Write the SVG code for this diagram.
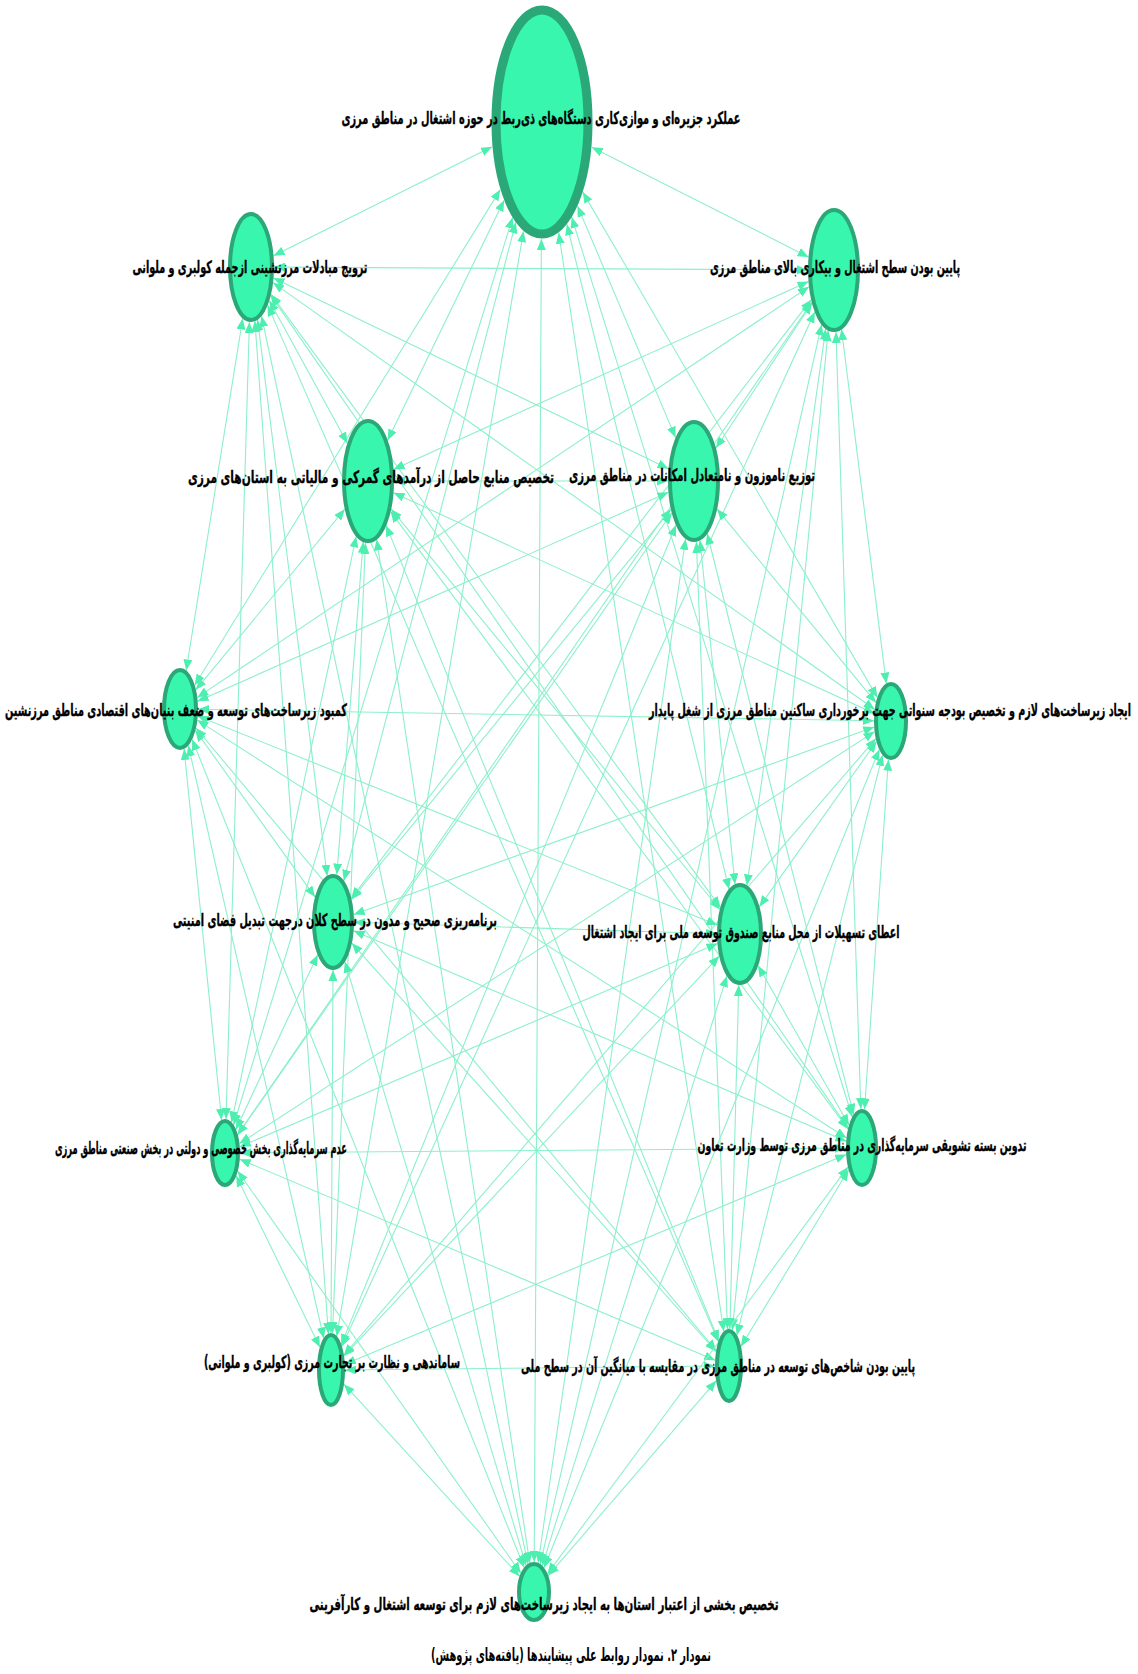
<svg xmlns="http://www.w3.org/2000/svg" width="1138" height="1674" viewBox="0 0 1138 1674">
<style>
.e{stroke:#8cf0cb;stroke-width:1.1;fill:none;marker-start:url(#ah);marker-end:url(#ah)}
.n{fill:#38f6ad;stroke:#2aa878;stroke-width:4}
.t{font-family:"DejaVu Sans","Noto Sans",sans-serif;font-weight:bold;font-size:17px;fill:#000;stroke:#000;stroke-width:0.35;text-anchor:middle;direction:rtl}
.cap{font-family:"DejaVu Sans","Noto Sans",sans-serif;font-weight:bold;font-size:18px;fill:#000;text-anchor:middle;direction:rtl}
</style>
<defs>
<marker id="ah" markerUnits="userSpaceOnUse" markerWidth="11" markerHeight="9" refX="11" refY="4.5" orient="auto-start-reverse">
<path d="M0,0 L11,4.5 L0,9 z" style="fill:#4cefb0"/>
</marker>
</defs>
<rect width="1138" height="1674" fill="#fff"/>
<g id="edges">
<line class="e" x1="492.1" y1="146.8" x2="273.5" y2="255.8"/>
<line class="e" x1="591.8" y1="147.2" x2="808.6" y2="257.1"/>
<line class="e" x1="504.1" y1="200.3" x2="387.7" y2="440.3"/>
<line class="e" x1="577.5" y1="205.9" x2="675.6" y2="437.6"/>
<line class="e" x1="500.3" y1="189.6" x2="194.7" y2="685.2"/>
<line class="e" x1="582.8" y1="192.1" x2="877.4" y2="697.6"/>
<line class="e" x1="515.8" y1="222.3" x2="343.8" y2="880.7"/>
<line class="e" x1="566.9" y1="224.2" x2="729.1" y2="889.3"/>
<line class="e" x1="512.6" y1="217.5" x2="233.6" y2="1125"/>
<line class="e" x1="571.7" y1="217.1" x2="852.3" y2="1117"/>
<line class="e" x1="523.5" y1="231.2" x2="336.7" y2="1336.2"/>
<line class="e" x1="558.7" y1="232.7" x2="723.8" y2="1331.4"/>
<line class="e" x1="541.4" y1="239" x2="534.2" y2="1562"/>
<line class="e" x1="274" y1="267.1" x2="808" y2="269.9"/>
<line class="e" x1="269.3" y1="300.4" x2="347.4" y2="443.3"/>
<line class="e" x1="273.5" y1="277.9" x2="668.5" y2="468.7"/>
<line class="e" x1="242.7" y1="318.4" x2="186.2" y2="670.5"/>
<line class="e" x1="273" y1="282.6" x2="874.8" y2="709.5"/>
<line class="e" x1="257.6" y1="319.8" x2="327.2" y2="875.9"/>
<line class="e" x1="271" y1="294.3" x2="720.4" y2="907.3"/>
<line class="e" x1="249.4" y1="322" x2="226" y2="1119"/>
<line class="e" x1="270.7" y1="295.4" x2="848.2" y2="1128.1"/>
<line class="e" x1="254.9" y1="321.1" x2="328.4" y2="1333.9"/>
<line class="e" x1="267.6" y1="305.1" x2="718.5" y2="1341.8"/>
<line class="e" x1="261.5" y1="315.9" x2="528" y2="1563.9"/>
<line class="e" x1="808.5" y1="281.6" x2="393.5" y2="469.4"/>
<line class="e" x1="812" y1="303.1" x2="715.9" y2="448"/>
<line class="e" x1="809" y1="286.8" x2="197.3" y2="697.4"/>
<line class="e" x1="841.5" y1="329.2" x2="886.3" y2="683.6"/>
<line class="e" x1="811.2" y1="299.7" x2="351.3" y2="898.2"/>
<line class="e" x1="825.7" y1="328.9" x2="746.9" y2="885.4"/>
<line class="e" x1="811.8" y1="302.2" x2="237.7" y2="1134.6"/>
<line class="e" x1="836" y1="332" x2="860.8" y2="1109"/>
<line class="e" x1="814.8" y1="311.9" x2="341.8" y2="1346.5"/>
<line class="e" x1="828.2" y1="330.3" x2="732.4" y2="1330"/>
<line class="e" x1="821.7" y1="324.4" x2="540.3" y2="1564.2"/>
<line class="e" x1="394" y1="481" x2="668" y2="481"/>
<line class="e" x1="344.8" y1="509.2" x2="195.8" y2="689.8"/>
<line class="e" x1="393.5" y1="492.7" x2="874.4" y2="713.4"/>
<line class="e" x1="363.2" y1="541.9" x2="336.8" y2="874.6"/>
<line class="e" x1="391.2" y1="509.2" x2="719.9" y2="909.5"/>
<line class="e" x1="356.2" y1="536.4" x2="231.5" y2="1122.4"/>
<line class="e" x1="390.6" y1="511.6" x2="848" y2="1129.1"/>
<line class="e" x1="365.4" y1="543" x2="332.5" y2="1333"/>
<line class="e" x1="386.1" y1="525.4" x2="718.8" y2="1340.9"/>
<line class="e" x1="376.7" y1="539.4" x2="529.7" y2="1563"/>
<line class="e" x1="668.5" y1="492.3" x2="197.6" y2="701.2"/>
<line class="e" x1="717.1" y1="509.1" x2="876" y2="702.7"/>
<line class="e" x1="670.9" y1="509.3" x2="351.5" y2="899.4"/>
<line class="e" x1="700" y1="540.3" x2="735" y2="884.3"/>
<line class="e" x1="671.8" y1="512.8" x2="237.7" y2="1134.8"/>
<line class="e" x1="707.2" y1="533.5" x2="853.6" y2="1114.7"/>
<line class="e" x1="676" y1="525" x2="341.2" y2="1344.9"/>
<line class="e" x1="696.4" y1="542" x2="727.5" y2="1329"/>
<line class="e" x1="685.6" y1="538.9" x2="538.2" y2="1562.8"/>
<line class="e" x1="198" y1="709.3" x2="874" y2="720.7"/>
<line class="e" x1="195.4" y1="730.4" x2="315.1" y2="897.1"/>
<line class="e" x1="197.7" y1="716.1" x2="717.4" y2="924.9"/>
<line class="e" x1="184.1" y1="748.9" x2="221.6" y2="1119.9"/>
<line class="e" x1="197.3" y1="720.1" x2="846.5" y2="1138"/>
<line class="e" x1="188.3" y1="745.4" x2="323.8" y2="1338.4"/>
<line class="e" x1="195.9" y1="728" x2="716.2" y2="1350.7"/>
<line class="e" x1="192.1" y1="739.3" x2="524.2" y2="1567.6"/>
<line class="e" x1="874.2" y1="727" x2="353.7" y2="914.5"/>
<line class="e" x1="876.5" y1="741.5" x2="759.4" y2="906.7"/>
<line class="e" x1="874.6" y1="731.6" x2="239.4" y2="1143.6"/>
<line class="e" x1="888.4" y1="759.7" x2="864.6" y2="1109.3"/>
<line class="e" x1="875.9" y1="738.6" x2="343.8" y2="1355.2"/>
<line class="e" x1="882.5" y1="754.9" x2="736.8" y2="1335.2"/>
<line class="e" x1="879.4" y1="749.4" x2="544" y2="1567.7"/>
<line class="e" x1="354" y1="922.3" x2="717" y2="933.7"/>
<line class="e" x1="317.7" y1="954.7" x2="235.9" y2="1129.6"/>
<line class="e" x1="353.6" y1="930.8" x2="846.3" y2="1141.3"/>
<line class="e" x1="333" y1="970" x2="331" y2="1333"/>
<line class="e" x1="351.8" y1="943.1" x2="716.1" y2="1351.5"/>
<line class="e" x1="344.9" y1="961.6" x2="526.1" y2="1565.5"/>
<line class="e" x1="717.5" y1="943.6" x2="239.7" y2="1146.7"/>
<line class="e" x1="758" y1="965.6" x2="849" y2="1125.2"/>
<line class="e" x1="719.3" y1="956.1" x2="344" y2="1356.1"/>
<line class="e" x1="738.7" y1="985" x2="729.9" y2="1329"/>
<line class="e" x1="726.9" y1="975.9" x2="542.3" y2="1565.7"/>
<line class="e" x1="240" y1="1152.9" x2="846" y2="1148.1"/>
<line class="e" x1="236.2" y1="1175.8" x2="319.9" y2="1347.3"/>
<line class="e" x1="239.7" y1="1159.2" x2="715.2" y2="1360.2"/>
<line class="e" x1="237.7" y1="1171.1" x2="520.8" y2="1573.2"/>
<line class="e" x1="846.2" y1="1154.6" x2="344.8" y2="1364.2"/>
<line class="e" x1="848.7" y1="1169.8" x2="740.9" y2="1346.5"/>
<line class="e" x1="848" y1="1166.9" x2="547.5" y2="1573.7"/>
<line class="e" x1="345" y1="1370" x2="715" y2="1366"/>
<line class="e" x1="344" y1="1384.2" x2="519.6" y2="1576.2"/>
<line class="e" x1="716.2" y1="1380.8" x2="548.2" y2="1575.6"/>
</g>
<g id="n1"><ellipse class="n" cx="542" cy="122" rx="46" ry="112" style="stroke-width:9"/><text class="t" x="541" y="124" textLength="399" lengthAdjust="spacingAndGlyphs">عملکرد جزیره‌ای و موازی‌کاری دستگاه‌های ذی‌ربط در حوزه اشتغال در مناطق مرزی</text></g>
<g id="n2"><ellipse class="n" cx="251" cy="267" rx="21" ry="53"/><text class="t" x="250" y="273" textLength="235" lengthAdjust="spacingAndGlyphs">ترویج مبادلات مرزنشینی ازجمله کولبری و ملوانی</text></g>
<g id="n3"><ellipse class="n" cx="834" cy="270" rx="24" ry="60"/><text class="t" x="835" y="273" textLength="250" lengthAdjust="spacingAndGlyphs">پایین بودن سطح اشتغال و بیکاری بالای مناطق مرزی</text></g>
<g id="n4"><ellipse class="n" cx="368" cy="481" rx="24" ry="60"/><text class="t" x="371" y="483" textLength="366" lengthAdjust="spacingAndGlyphs">تخصیص منابع حاصل از درآمدهای گمرکی و مالیاتی به استان‌های مرزی</text></g>
<g id="n5"><ellipse class="n" cx="694" cy="481" rx="24" ry="59"/><text class="t" x="692" y="481" textLength="246" lengthAdjust="spacingAndGlyphs">توزیع ناموزون و نامتعادل امکانات در مناطق مرزی</text></g>
<g id="n6"><ellipse class="n" cx="180" cy="709" rx="16" ry="39"/><text class="t" x="176" y="716" textLength="342" lengthAdjust="spacingAndGlyphs">کمبود زیرساخت‌های توسعه و ضعف بنیان‌های اقتصادی مناطق مرزنشین</text></g>
<g id="n7"><ellipse class="n" cx="891" cy="721" rx="15" ry="37"/><text class="t" x="890" y="716" textLength="482" lengthAdjust="spacingAndGlyphs">ایجاد زیرساخت‌های لازم و تخصیص بودجه سنواتی جهت برخورداری ساکنین مناطق مرزی از شغل پایدار</text></g>
<g id="n8"><ellipse class="n" cx="333" cy="922" rx="19" ry="46"/><text class="t" x="335" y="926" textLength="324" lengthAdjust="spacingAndGlyphs">برنامه‌ریزی صحیح و مدون در سطح کلان درجهت تبدیل فضای امنیتی</text></g>
<g id="n9"><ellipse class="n" cx="740" cy="934" rx="21" ry="49"/><text class="t" x="741" y="938" textLength="317" lengthAdjust="spacingAndGlyphs">اعطای تسهیلات از محل منابع صندوق توسعه ملی برای ایجاد اشتغال</text></g>
<g id="n10"><ellipse class="n" cx="225" cy="1153" rx="13" ry="32"/><text class="t" x="201" y="1154" textLength="292" lengthAdjust="spacingAndGlyphs">عدم سرمایه‌گذاری بخش خصوصی و دولتی در بخش صنعتی مناطق مرزی</text></g>
<g id="n11"><ellipse class="n" cx="862" cy="1148" rx="14" ry="37"/><text class="t" x="862" y="1151" textLength="329" lengthAdjust="spacingAndGlyphs">تدوین بسته تشویقی سرمایه‌گذاری در مناطق مرزی توسط وزارت تعاون</text></g>
<g id="n12"><ellipse class="n" cx="331" cy="1370" rx="12" ry="35"/><text class="t" x="332" y="1368" textLength="256" lengthAdjust="spacingAndGlyphs">ساماندهی و نظارت بر تجارت مرزی (کولبری و ملوانی)</text></g>
<g id="n13"><ellipse class="n" cx="729" cy="1366" rx="12" ry="35"/><text class="t" x="718" y="1372" textLength="394" lengthAdjust="spacingAndGlyphs">پایین بودن شاخص‌های توسعه در مناطق مرزی در مقایسه با میانگین آن در سطح ملی</text></g>
<g id="n14"><ellipse class="n" cx="534" cy="1592" rx="15" ry="28"/><text class="t" x="544" y="1610" textLength="469" lengthAdjust="spacingAndGlyphs">تخصیص بخشی از اعتبار استان‌ها به ایجاد زیرساخت‌های لازم برای توسعه اشتغال و کارآفرینی</text></g>
<text class="cap" x="571" y="1661" textLength="280" lengthAdjust="spacingAndGlyphs">نمودار ۲. نمودار روابط علی پیشایندها (یافته‌های پژوهش)</text>
</svg>
